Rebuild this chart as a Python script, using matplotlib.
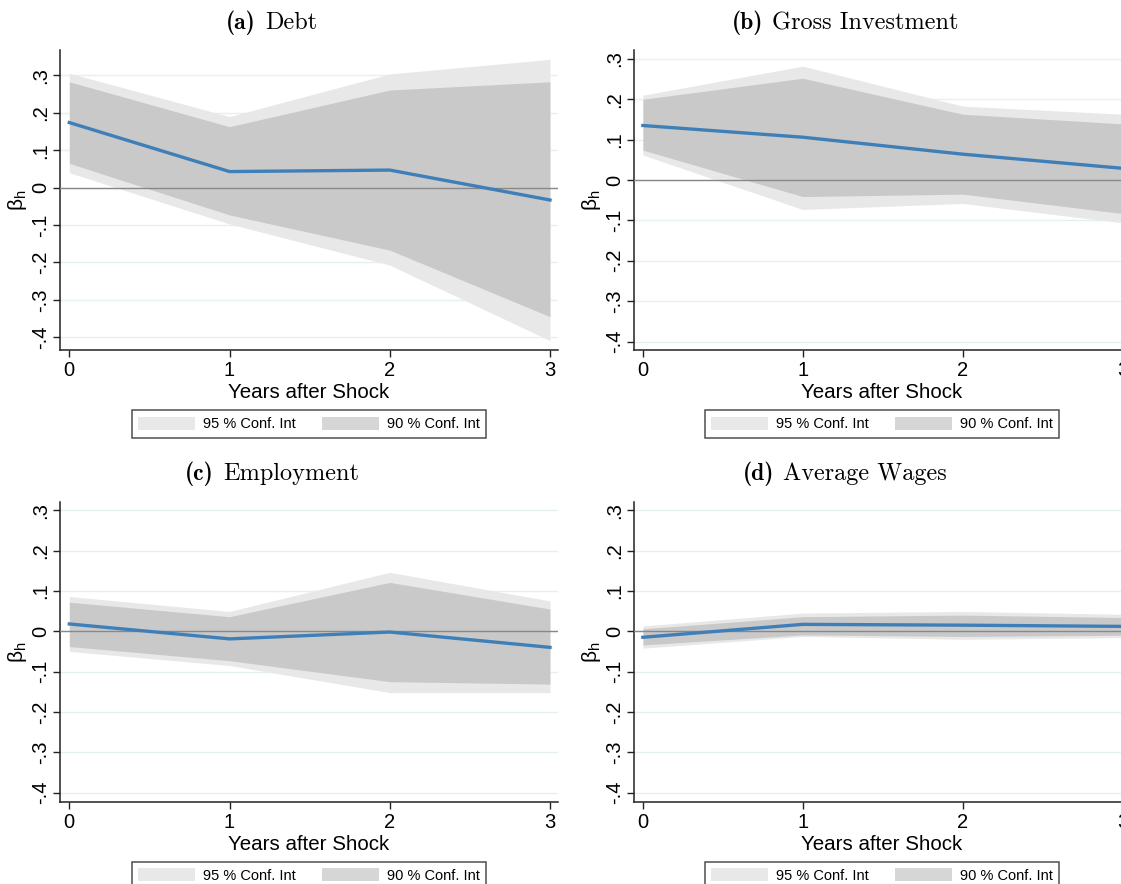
import matplotlib
matplotlib.use("Agg")
from matplotlib import pyplot as plt
from matplotlib.patches import Patch
from matplotlib.ticker import FuncFormatter

# horizon
years = [0, 1, 2, 3]

# (a) Debt
debt_coef = [0.174, 0.043, 0.047, -0.033]
debt_hi95 = [0.306, 0.190, 0.304, 0.343]
debt_lo95 = [0.040, -0.097, -0.207, -0.409]
debt_hi90 = [0.283, 0.163, 0.261, 0.283]
debt_lo90 = [0.065, -0.073, -0.167, -0.345]

# (b) Gross Investment
inv_coef = [0.135, 0.106, 0.064, 0.029]
inv_hi95 = [0.210, 0.282, 0.183, 0.163]
inv_lo95 = [0.062, -0.073, -0.058, -0.106]
inv_hi90 = [0.200, 0.252, 0.163, 0.139]
inv_lo90 = [0.074, -0.041, -0.035, -0.083]

# (c) Employment
emp_coef = [0.018, -0.019, -0.002, -0.040]
emp_hi95 = [0.086, 0.049, 0.146, 0.075]
emp_lo95 = [-0.050, -0.085, -0.152, -0.152]
emp_hi90 = [0.072, 0.036, 0.121, 0.055]
emp_lo90 = [-0.038, -0.073, -0.125, -0.131]

# (d) Average Wages
wage_coef = [-0.015, 0.017, 0.015, 0.012]
wage_hi95 = [0.013, 0.045, 0.049, 0.042]
wage_lo95 = [-0.042, -0.013, -0.020, -0.016]
wage_hi90 = [0.006, 0.036, 0.040, 0.034]
wage_lo90 = [-0.034, -0.009, -0.013, -0.010]

titles = ["(a)", "(b)", "(c)", "(d)"]
names = ["Debt", "Gross Investment", "Employment", "Average Wages"]
yticks = [-0.4, -0.3, -0.2, -0.1, 0, 0.1, 0.2, 0.3]

C95 = "#e8e8e8"
C90 = "#a1a1a1"
LINE = "#3f7fb8"

plt.rcParams["font.family"] = ["Liberation Sans", "DejaVu Sans"]
plt.rcParams["mathtext.fontset"] = "cm"


def fmt(v, pos):
    if abs(v) < 1e-9:
        return "0"
    s = "%.1f" % v
    return s.replace("0.", ".")


def panel(ax, coef, lo95, hi95, lo90, hi90, ylim):
    ax.fill_between(years, lo95, hi95, color=C95, lw=0, zorder=1)
    ax.fill_between(years, lo90, hi90, color=C90, alpha=0.43, lw=0, zorder=2)
    ax.axhline(0, color="#888888", lw=1.0, zorder=3)
    ax.plot(years, coef, color=LINE, lw=2.4, zorder=4)

    ax.set_xlim(-0.058, 3.05)
    ax.set_ylim(*ylim)
    ax.set_xticks(years)
    ax.set_yticks(yticks)
    ax.yaxis.set_major_formatter(FuncFormatter(fmt))
    ax.grid(axis="y", color="#e6f0f2", lw=1.0, zorder=0)
    ax.set_axisbelow(True)

    for s in ["top", "right"]:
        ax.spines[s].set_visible(False)
    for s in ["left", "bottom"]:
        ax.spines[s].set_color("#222222")
        ax.spines[s].set_linewidth(1.1)

    ax.tick_params(axis="both", direction="out", length=5, width=1.0,
                   color="#222222", labelsize=14.5)
    ax.tick_params(axis="x", pad=3)
    ax.tick_params(axis="y", pad=2)
    plt.setp(ax.get_yticklabels(), rotation=90, va="center")

    ax.set_xlabel("Years after Shock", fontsize=14.8, labelpad=2)
    ax.set_ylabel("β$_{\\mathregular{h}}$", fontsize=15)
    ax.yaxis.set_label_coords(-0.062, 0.5)

    handles = [Patch(facecolor=C95, edgecolor="none", label="95 % Conf. Int"),
               Patch(facecolor="#d6d6d6", edgecolor="none", label="90 % Conf. Int")]
    leg = ax.legend(handles=handles, ncol=2, loc="upper center",
                    bbox_to_anchor=(0.5, -0.2), fontsize=10.5, frameon=True,
                    fancybox=False, edgecolor="#222222", handlelength=3.9,
                    handleheight=1.0, handletextpad=0.55, columnspacing=1.8,
                    borderpad=0.45, borderaxespad=0)
    leg.get_frame().set_linewidth(1.1)


def main():
    fig = plt.figure(figsize=(11.21, 8.84), dpi=100)
    W, H = 1121.0, 884.0

    # axes boxes in pixels: left, top, width, height
    boxes = [(60, 50, 498, 300), (633.6, 50, 497, 300),
             (60, 501.7, 498, 300), (633.6, 501.7, 497, 300)]
    ylims = [(-0.434, 0.368), (-0.421, 0.322), (-0.4225, 0.321), (-0.4225, 0.321)]
    data = [(debt_coef, debt_lo95, debt_hi95, debt_lo90, debt_hi90),
            (inv_coef, inv_lo95, inv_hi95, inv_lo90, inv_hi90),
            (emp_coef, emp_lo95, emp_hi95, emp_lo90, emp_hi90),
            (wage_coef, wage_lo95, wage_hi95, wage_lo90, wage_hi90)]
    # left edge and baseline of each title, pixels
    title_pos = [(226, 29), (732, 29), (185, 480), (743, 480)]

    renderer = fig.canvas.get_renderer()
    for i in range(4):
        l, t, w, h = boxes[i]
        ax = fig.add_axes([l / W, 1 - (t + h) / H, w / W, h / H])
        panel(ax, *data[i], ylims[i])
        tx, ty = title_pos[i]
        tag = fig.text(tx / W, 1 - ty / H, titles[i], family="cmb10",
                       fontsize=17, ha="left", va="baseline")
        right = tag.get_window_extent(renderer).x1
        fig.text((right + 9) / W, 1 - ty / H, names[i], family="cmr10",
                 fontsize=17.5, ha="left", va="baseline")

    fig.savefig("out.png", dpi=100)


if __name__ == "__main__":
    main()
